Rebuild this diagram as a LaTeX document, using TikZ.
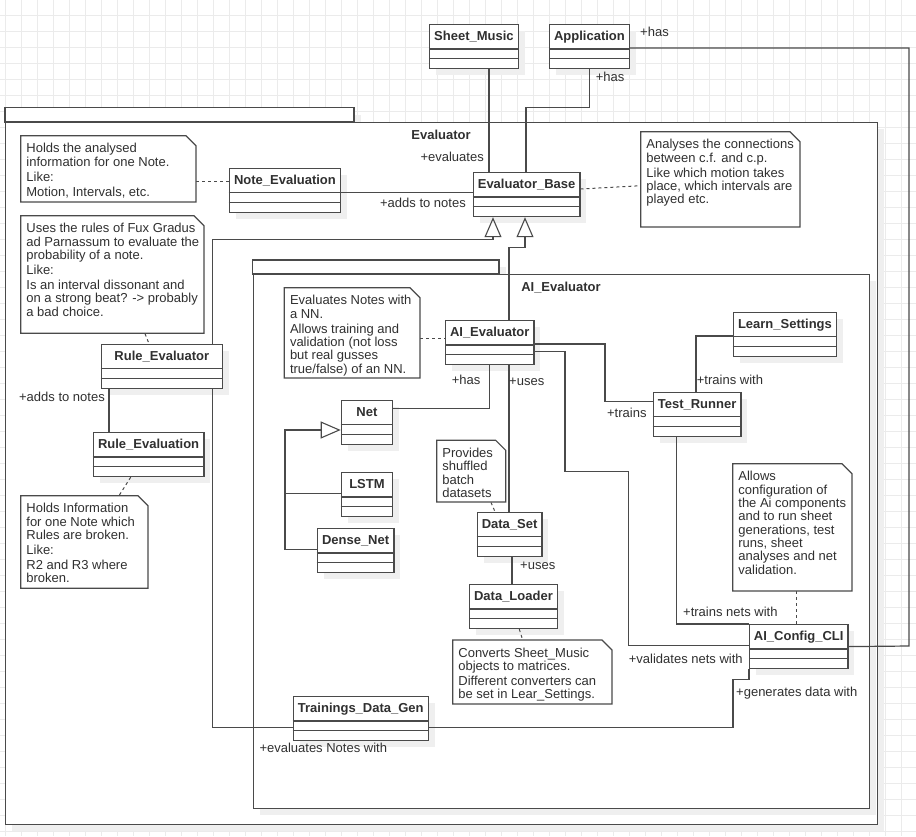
\documentclass[tikz,border=0pt]{standalone}
\usepackage{fontspec}
\setmainfont{Liberation Sans}
\usetikzlibrary{calc,arrows.meta}
\definecolor{linec}{HTML}{4A4A4A}
\definecolor{txtc}{HTML}{303030}
\definecolor{gridc}{HTML}{EBEBEB}
\definecolor{shadc}{HTML}{EFEFEF}
\pgfdeclarelayer{grd}\pgfdeclarelayer{pkg}\pgfdeclarelayer{shd}\pgfdeclarelayer{edg}
\pgfsetlayers{grd,pkg,shd,edg,main}
\tikzset{
  ln/.style={draw=linec, line width=1.2pt},
  dotl/.style={draw=linec, line width=1pt, dash pattern=on 3pt off 3pt},
  gen/.style={ln, -{Triangle[open, length=20pt, width=17pt, line width=1.1pt]}},
  clsbox/.style={ln, fill=white, inner sep=0, rectangle},
  clstitle/.style={inner sep=0, font=\fontsize{13}{14}\selectfont\bfseries, text=txtc, text height=9.3pt, text depth=1.3pt},
  lbl/.style={inner sep=0, font=\fontsize{13}{14}\selectfont, text=txtc, text height=9.3pt, text depth=1.3pt},
  notetxt/.style={inner sep=0, align=left, font=\fontsize{13}{13.3}\selectfont, text=txtc},
}
\newcommand\umlclass[5]{%
  \begin{pgfonlayer}{shd}\fill[shadc] (#2+7,#3+7) rectangle (#2+#4+7,#3+51);\end{pgfonlayer}
  \node[clsbox, minimum width=#4, minimum height=44, anchor=north west] (#1) at (#2,#3) {};
  \node[clstitle] at ($(#1.north)+(0,12.5)$) {#5};
  \draw[ln] ($(#1.north west)+(0,25)$) -- ($(#1.north east)+(0,25)$);
  \draw[ln] ($(#1.north west)+(0,34.5)$) -- ($(#1.north east)+(0,34.5)$);
}
\newcommand\umlnote[6]{%
  \node[inner sep=0, minimum width=#4-#2, minimum height=#5-#3, anchor=north west] (#1) at (#2,#3) {};
  \draw[ln, fill=white] (#2,#3) -- (#4-10,#3) -- (#4,#3+10) -- (#4,#5) -- (#2,#5) -- cycle;
  \node[notetxt, anchor=north west] at (#2+5.5,#3+7.6) {#6};
}
\begin{document}
\begin{tikzpicture}[x=1pt, y=-1pt]
\useasboundingbox (0,0) rectangle (916,836);
\begin{pgfonlayer}{grd}
  \fill[white] (0,0) rectangle (916,836);
  \foreach \i in {0,...,57} \draw[gridc, line width=1pt] (5+16*\i,0) -- (5+16*\i,836);
  \foreach \j in {0,...,52} \draw[gridc, line width=1pt] (0,-0.3+16*\j) -- (916,-0.3+16*\j);
\end{pgfonlayer}
% packages
\begin{pgfonlayer}{pkg}
  \fill[shadc] (12,114.7) rectangle (361,129);
  \fill[shadc] (12,129) rectangle (884,831);
  \draw[ln, fill=white] (5,107.7) rectangle (354,122);
  \node[ln, fill=white, inner sep=0, minimum width=872, minimum height=702, anchor=north west] (evpkg) at (5,122) {};
  \fill[shadc] (259.7,267) rectangle (506,281);
  \fill[shadc] (259.7,281) rectangle (876,814.7);
  \draw[ln, fill=white] (252.7,260) rectangle (499,274);
  \node[ln, fill=white, inner sep=0, minimum width=616.3, minimum height=533.7, anchor=north west] (aipkg) at (252.7,274) {};
\end{pgfonlayer}
\node[clstitle] (evtitle) at (441,135) {Evaluator};
\node[clstitle] (aititle) at (561,287) {AI\_Evaluator};
% classes
\umlclass{sm}{429}{24}{88.7}{Sheet\_Music}
\umlclass{app}{549}{24}{79.7}{Application}
\umlclass{ne}{228.7}{167.7}{111.3}{Note\_Evaluation}
\umlclass{eb}{472.7}{172}{106.6}{Evaluator\_Base}
\umlclass{re}{100.7}{343.7}{121}{Rule\_Evaluator}
\umlclass{rev}{92.7}{432}{110.6}{Rule\_Evaluation}
\umlclass{aie}{445}{320}{88.3}{AI\_Evaluator}
\umlclass{ls}{732.7}{311.7}{103.3}{Learn\_Settings}
\umlclass{tr}{652.7}{391.7}{87.6}{Test\_Runner}
\umlclass{net}{340.7}{399.7}{51.3}{Net}
\umlclass{lstm}{340.7}{472}{51.3}{LSTM}
\umlclass{dn}{316.7}{528}{76.6}{Dense\_Net}
\umlclass{ds}{476.7}{511.7}{64.6}{Data\_Set}
\umlclass{dl}{469}{584}{87.7}{Data\_Loader}
\umlclass{cli}{749}{624}{98.3}{AI\_Config\_CLI}
\umlclass{tdg}{292.7}{696}{135}{Trainings\_Data\_Gen}
% notes
\umlnote{n1}{20.7}{135.7}{196}{202}{Holds the analysed\\information for one Note.\\[1.7pt]Like:\\[1.7pt]Motion, Intervals, etc.}
\umlnote{n2}{20.7}{215.7}{204}{333.3}{Uses the rules of Fux Gradus\\ad Parnassum to evaluate the\\probability of a note.\\[1.7pt]Like:\\[1.7pt]Is an interval dissonant and\\on a strong beat? -> probably\\a bad choice.}
\umlnote{n3}{640.7}{131.7}{800}{227}{Analyses the connections\\between c.f. and c.p.\\[1.7pt]Like which motion takes\\place, which intervals are\\played etc.}
\umlnote{n4}{732.7}{463.7}{852}{591}{Allows\\configuration of\\the Ai components\\and to run sheet\\generations, test\\runs, sheet\\analyses and net\\validation.}
\umlnote{n5}{20.7}{495.7}{148}{588.3}{Holds Information\\for one Note which\\Rules are broken.\\[1.7pt]Like:\\[1.7pt]R2 and R3 where\\broken.}
\umlnote{n6}{284.3}{287.7}{420}{378}{Evaluates Notes with\\a NN.\\[1.7pt]Allows training and\\validation (not loss\\but real gusses\\true/false) of an NN.}
\umlnote{n7}{436.7}{440.3}{505.7}{502}{Provides\\shuffled\\batch\\datasets}
\umlnote{n8}{452.7}{640}{612}{704}{Converts Sheet\_Music\\objects to matrices.\\[1.7pt]Different converters can\\be set in Lear\_Settings.}
% connectors
\begin{pgfonlayer}{edg}
  \draw[ln] ($(sm.south west)+(60,0)$) -- ($(eb.north west)+(16.3,0)$);
  \draw[ln] (app.south) |- (526,107.7) -- ($(eb.north west)+(53.3,0)$);
  \draw[ln] ($(app.north east)+(0,24)$) -| (909,646) -- (cli.east);
  \draw[ln] ($(ne.north east)+(0,25)$) -- ($(eb.north west)+(0,20.7)$);
  \draw[gen] ($(tdg.north west)+(0,31.7)$) -| (212.7,239.3) -| ($(eb.south west)+(20.3,0)$);
  \draw[gen] ($(aie.north west)+(64,0)$) |- (525,247.7) -- ($(eb.south west)+(52.3,0)$);
  \draw[dotl] ($(n1.north east)+(0,46)$) -- ($(ne.north west)+(0,14)$);
  \draw[dotl] ($(eb.north east)+(0,17)$) -- ($(n3.north west)+(0,54)$);
  \draw[dotl] ($(n2.south west)+(124.3,0)$) -- ($(re.north west)+(48.3,0)$);
  \draw[ln] ($(re.south west)+(8.3,0)$) -- ($(rev.north west)+(16.3,0)$);
  \draw[dotl] ($(rev.south west)+(38,0)$) -- ($(n5.north west)+(98.3,0)$);
  \draw[dotl] ($(n6.north east)+(0,50.6)$) -- ($(aie.north west)+(0,18.3)$);
  \draw[ln] ($(aie.south west)+(44.3,0)$) |- ($(net.north east)+(0,8.6)$);
  \draw[ln] ($(aie.south west)+(64,0)$) -- ($(ds.north west)+(32.3,0)$);
  \draw[ln] ($(aie.north east)+(0,24)$) -| (605,401.7) -- ($(tr.north west)+(0,10)$);
  \draw[ln] ($(ls.north west)+(0,24.3)$) -| ($(tr.north west)+(43.3,0)$);
  \draw[ln] ($(aie.north east)+(0,31.7)$) -| (565,471.7) -| (628.7,645.7) -- ($(cli.north west)+(0,21.7)$);
  \draw[ln] ($(tr.south west)+(24,0)$) |- (cli.north west);
  \draw[dotl] ($(n4.south west)+(64,0)$) -- ($(cli.north west)+(47.7,0)$);
  \draw[ln] (cli.south west) |- (733,679.3) |- ($(tdg.north east)+(0,31.7)$);
  \draw[gen] ($(dn.north west)+(0,21.7)$) -| (285,430) -- ($(net.north west)+(0,30.3)$);
  \draw[ln] ($(lstm.north west)+(0,21.7)$) -- (285,493.7);
  \draw[ln] ($(ds.south west)+(35.3,0)$) -- ($(dl.north west)+(43,0)$);
  \draw[dotl] ($(n7.south west)+(54.3,0)$) -- ($(ds.north west)+(18.3,0)$);
  \draw[dotl] ($(dl.south west)+(50.3,0)$) -- ($(n8.north west)+(70,0)$);
\end{pgfonlayer}
% labels
\node[lbl, anchor=west] (l1) at (640,32.7) {+has};
\node[lbl, anchor=west] (l2) at (595.7,77.3) {+has};
\node[lbl, anchor=east] (l3) at (484,157.3) {+evaluates};
\node[lbl, anchor=east] (l4) at (466,203.3) {+adds to notes};
\node[lbl, anchor=east] (l5) at (105,397.3) {+adds to notes};
\node[lbl, anchor=west] (l6) at (451.7,380.7) {+has};
\node[lbl, anchor=west] (l7) at (509,381.7) {+uses};
\node[lbl, anchor=east] (l8) at (646.7,413.3) {+trains};
\node[lbl, anchor=west] (l9) at (696.7,380.3) {+trains with};
\node[lbl, anchor=west] (l10) at (520,565.7) {+uses};
\node[lbl, anchor=west] (l11) at (683,612.3) {+trains nets with};
\node[lbl, anchor=west] (l12) at (628.7,659.3) {+validates nets with};
\node[lbl, anchor=west] (l13) at (736,692.7) {+generates data with};
\node[lbl, anchor=west] (l14) at (259.3,748.7) {+evaluates Notes with};
\end{tikzpicture}
\end{document}
